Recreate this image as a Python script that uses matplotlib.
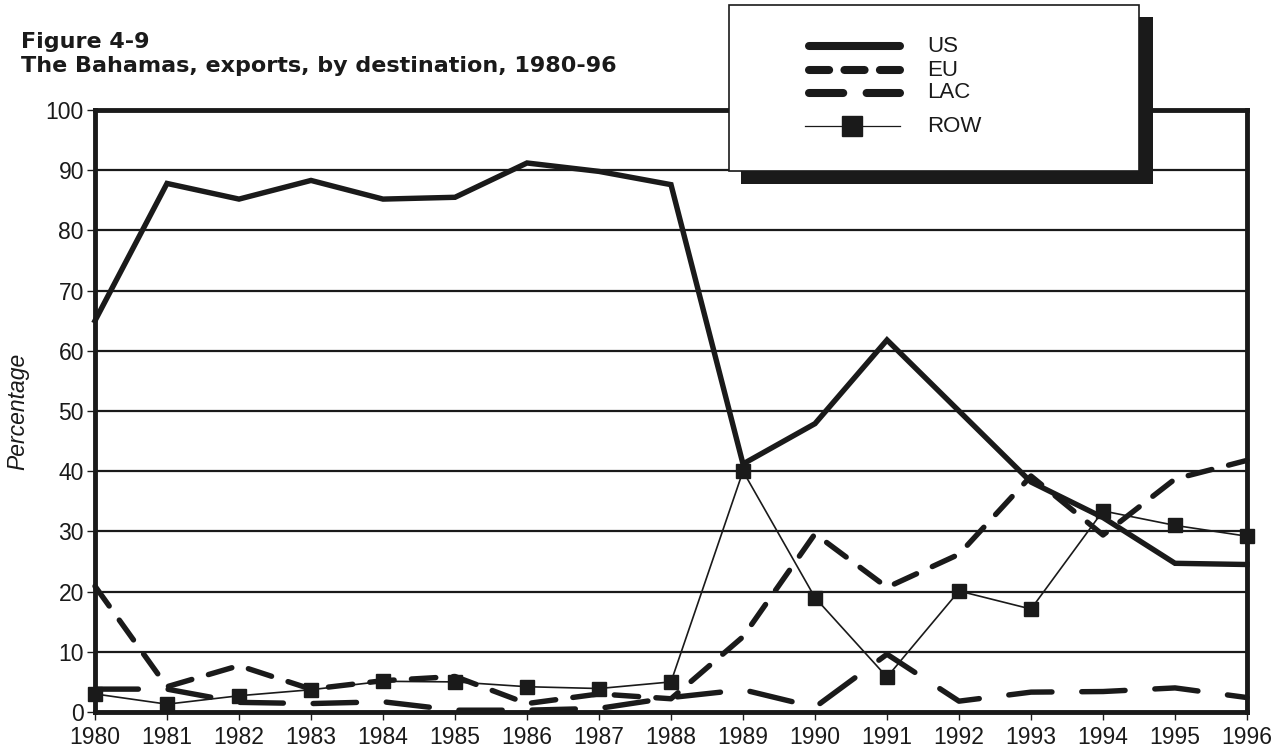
import numpy as np
import matplotlib
matplotlib.use('Agg')
import matplotlib.pyplot as plt
from matplotlib.patches import Rectangle
from matplotlib.lines import Line2D

plt.rcParams['font.family'] = ['Liberation Sans', 'DejaVu Sans']

# Data (percent of exports)
years = np.arange(1980, 1997)
us  = [65.0, 87.8, 85.2, 88.3, 85.2, 85.5, 91.2, 89.8, 87.6, 41.2, 47.9, 61.8, 50.0, 38.2, 32.3, 24.7, 24.5]
eu  = [20.9, 4.2, 7.7, 3.8, 5.2, 5.9, 1.4, 3.0, 2.2, 12.5, 29.6, 20.7, 26.2, 39.2, 29.4, 38.7, 41.8]
lac = [3.8, 3.8, 1.6, 1.4, 1.7, 0.3, 0.3, 0.6, 2.4, 3.7, 0.8, 9.6, 1.8, 3.3, 3.4, 4.0, 2.4]
row = [3.0, 1.3, 2.7, 3.7, 5.1, 5.0, 4.2, 3.9, 5.0, 40.0, 19.0, 5.8, 20.1, 17.1, 33.4, 31.0, 29.2]
names = ['US', 'EU', 'LAC', 'ROW']

W, H = 1287, 755
ink = '#1a1a1a'
fig = plt.figure(figsize=(W / 100, H / 100), dpi=100)
ax = fig.add_axes([95 / W, 1 - 712 / H, (1247 - 95) / W, (712 - 110) / H])

lw = 3.9
styles = {
    'US':  dict(color=ink, lw=lw, ls='-', solid_joinstyle='miter'),
    'EU':  dict(color=ink, lw=lw, ls=(0, (4.5, 3.2)), dash_capstyle='round'),
    'LAC': dict(color=ink, lw=lw, ls=(0, (8, 5.5)), dash_capstyle='round'),
    'ROW': dict(color=ink, lw=1.2, ls='-', marker='s', markersize=10),
}
for name, vals in zip(names, [us, eu, lac, row]):
    ax.plot(years, vals, clip_on=False, **styles[name])

ax.set_xlim(1980, 1996)
ax.set_ylim(0, 100)
ax.set_xticks(years)
ax.set_yticks(np.arange(0, 101, 10))
ax.yaxis.grid(True, color=ink, lw=1.6)
ax.set_axisbelow(True)
for s in ax.spines.values():
    s.set_linewidth(3.5)
    s.set_color(ink)
ax.tick_params(axis='both', length=6, width=1, color=ink, labelsize=16.5,
               labelcolor=ink, pad=2)
ax.tick_params(axis='x', pad=4)
ax.set_ylabel('Percentage', fontsize=16.5, style='italic', color=ink, labelpad=12)

fig.text(21 / W, 1 - 48 / H, 'Figure 4-9', fontsize=16, fontweight='bold', color=ink,
         family=['DejaVu Sans'])
fig.text(21 / W, 1 - 72 / H, 'The Bahamas, exports, by destination, 1980-96', fontsize=16,
         fontweight='bold', color=ink, family=['DejaVu Sans'])

# legend box drawn in pixel space
lax = fig.add_axes([0, 0, 1, 1], facecolor='none')
lax.set_xlim(0, W)
lax.set_ylim(H, 0)
lax.axis('off')
lax.add_patch(Rectangle((741, 17), 412, 167, facecolor=ink, edgecolor='none'))
lax.add_patch(Rectangle((729, 5), 410, 166, facecolor='white', edgecolor=ink, lw=1.2))
leg_y = [46, 70, 93, 126]
leg_styles = {
    'US':  dict(color=ink, lw=5.8, ls='-', solid_capstyle='round'),
    'EU':  dict(color=ink, lw=5.8, ls=(0, (2.5, 1.9)), dash_capstyle='round'),
    'LAC': dict(color=ink, lw=5.8, ls=(0, (4.25, 2.9)), dash_capstyle='round'),
}
for name, yy in zip(names, leg_y):
    if name == 'ROW':
        lax.add_line(Line2D([805, 852, 900], [yy, yy, yy], color=ink, lw=0.9,
                            marker='s', markersize=14, markevery=[1]))
    else:
        lax.add_line(Line2D([809, 900], [yy, yy], **leg_styles[name]))
    lax.text(927, yy, name, fontsize=16, va='center', ha='left', color=ink)

fig.savefig('out.png', dpi=100)
